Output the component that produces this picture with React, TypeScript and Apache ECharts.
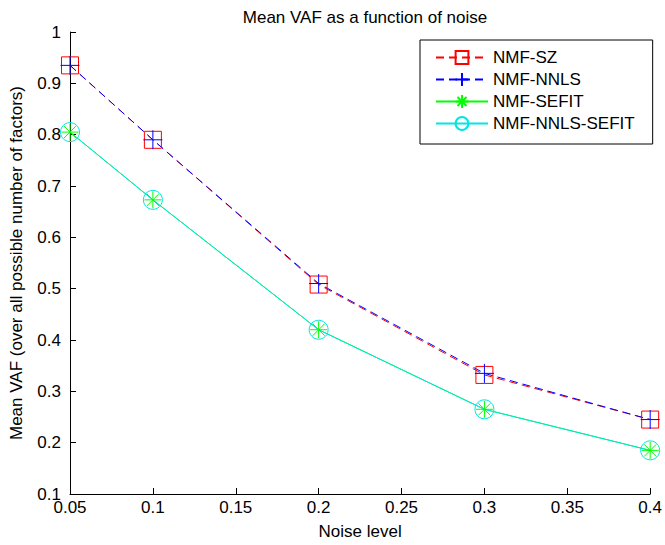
import React, { useEffect, useRef } from "react";
import * as echarts from "echarts";

const noiseLevels = [0.05, 0.1, 0.2, 0.3, 0.4];
const nmfSZ = [0.935, 0.79, 0.508, 0.332, 0.245];
const nmfNNLS = [0.935, 0.79, 0.51, 0.335, 0.245];
const nmfSEFIT = [0.805, 0.673, 0.42, 0.265, 0.185];
const nmfNNLSSEFIT = [0.805, 0.673, 0.42, 0.265, 0.185];

const FONT = "'Liberation Sans', Arial, sans-serif";
const FS = 17;

const plusPath = "path://M0,-10L0,10M-10,0L10,0";
const starPath =
  "path://M0,-10L0,10M-10,0L10,0M-7.07,-7.07L7.07,7.07M-7.07,7.07L7.07,-7.07";

function pairs(ys: number[]) {
  return noiseLevels.map((x, i) => [x, ys[i]]);
}

export default function App() {
  const ref = useRef<HTMLDivElement>(null);
  useEffect(() => {
    if (!ref.current) return;
    const chart = echarts.init(ref.current, undefined, { renderer: "svg" });
    const fmt = (v: number) => String(+v.toFixed(2));
    chart.setOption({
      animation: false,
      backgroundColor: "#fff",
      title: {
        text: "Mean VAF as a function of noise",
        left: 360,
        textAlign: "center",
        top: 4,
        textStyle: { fontFamily: FONT, fontSize: FS, fontWeight: "normal", color: "#000" },
      },
      legend: {
        left: 420,
        top: 40,
        orient: "vertical",
        backgroundColor: "#fff",
        borderColor: "#000",
        borderWidth: 1,
        padding: [9, 18, 12, 15],
        itemGap: 5,
        itemWidth: 52,
        itemHeight: 16,
        textStyle: { fontFamily: FONT, fontSize: FS, color: "#000" },
        data: ["NMF-SZ", "NMF-NNLS", "NMF-SEFIT", "NMF-NNLS-SEFIT"],
      },
      grid: { left: 68, right: 12, top: 32, bottom: 50 },
      xAxis: {
        type: "value",
        min: 0.05,
        max: 0.4,
        interval: 0.05,
        name: "Noise level",
        nameLocation: "middle",
        nameGap: 29,
        nameTextStyle: { fontFamily: FONT, fontSize: FS, color: "#000" },
        axisLine: { show: true, lineStyle: { color: "#000", width: 1 } },
        axisTick: { show: true, inside: true, length: 6, lineStyle: { color: "#000" } },
        axisLabel: { fontFamily: FONT, fontSize: FS, color: "#000", margin: 5, formatter: fmt },
        splitLine: { show: false },
      },
      yAxis: {
        type: "value",
        min: 0.1,
        max: 1,
        interval: 0.1,
        name: "Mean VAF (over all possible number of factors)",
        nameLocation: "middle",
        nameGap: 45,
        nameTextStyle: { fontFamily: FONT, fontSize: FS, color: "#000" },
        axisLine: { show: true, lineStyle: { color: "#000", width: 1 } },
        axisTick: { show: true, inside: true, length: 6, lineStyle: { color: "#000" } },
        axisLabel: { fontFamily: FONT, fontSize: FS, color: "#000", margin: 9, formatter: fmt },
        splitLine: { show: false },
      },
      series: [
        {
          name: "NMF-SZ",
          type: "line",
          data: pairs(nmfSZ),
          symbol: "rect",
          symbolSize: 17,
          lineStyle: { color: "#ff0000", width: 1, type: [8, 5] },
          itemStyle: { color: "rgba(0,0,0,0)", borderColor: "#ff0000", borderWidth: 1 },
        },
        {
          name: "NMF-NNLS",
          type: "line",
          data: pairs(nmfNNLS),
          symbol: plusPath,
          symbolSize: 19,
          lineStyle: { color: "#0000ff", width: 1, type: [8, 5] },
          itemStyle: { color: "#0000ff", borderColor: "#0000ff", borderWidth: 1 },
        },
        {
          name: "NMF-SEFIT",
          type: "line",
          data: pairs(nmfSEFIT),
          symbol: starPath,
          symbolSize: 17,
          lineStyle: { color: "#00ff00", width: 1 },
          itemStyle: { color: "#00ff00", borderColor: "#00ff00", borderWidth: 1 },
        },
        {
          name: "NMF-NNLS-SEFIT",
          type: "line",
          data: pairs(nmfNNLSSEFIT),
          symbol: "circle",
          symbolSize: 19,
          lineStyle: { color: "#00e5e5", width: 1 },
          itemStyle: { color: "rgba(0,0,0,0)", borderColor: "#00e5e5", borderWidth: 1 },
        },
      ],
    });
    return () => chart.dispose();
  }, []);
  return (
    <div
      ref={ref}
      style={{ position: "fixed", left: 0, top: 0, width: 665, height: 545 }}
    />
  );
}
